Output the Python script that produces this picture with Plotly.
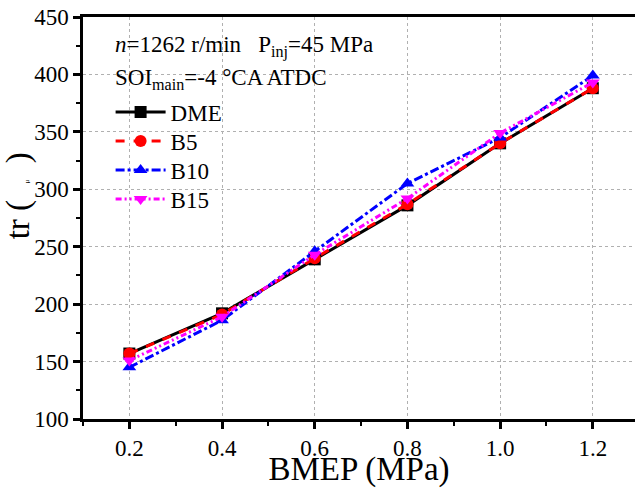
import plotly.graph_objects as go

bmep = [0.2, 0.4, 0.6, 0.8, 1.0, 1.2]
dme = [157, 192, 239, 286, 340, 388]
b5 = [157, 191, 240, 287, 340, 388]
b10 = [145, 186, 246, 305, 345, 399]
b15 = [151, 189, 243, 292, 349, 393]

series = [
    ("DME", dme, "black", "solid", "square"),
    ("B5", b5, "red", "dash", "circle"),
    ("B10", b10, "blue", "dashdot", "triangle-up"),
    ("B15", b15, "magenta", "6px,3px,2px,3px,2px,3px", "triangle-down"),
]

FONT = "Liberation Serif"
legend_names = ["legend", "legend2", "legend3", "legend4"]
legend_y = [0.7637, 0.6915, 0.6194, 0.5473]

fig = go.Figure()
for (name, ys, color, dash, sym), lg in zip(series, legend_names):
    fig.add_trace(go.Scatter(
        x=bmep, y=ys, name=name, mode="lines+markers",
        line=dict(color=color, width=3, dash=dash),
        marker=dict(symbol=sym, size=12, color=color),
        legend=lg,
    ))

legend_layout = {}
for lg, ly in zip(legend_names, legend_y):
    legend_layout[lg] = dict(
        x=0.05, y=ly, xanchor="left", yanchor="middle",
        font=dict(size=23, family=FONT, color="black"), bgcolor="rgba(0,0,0,0)",
        itemwidth=50, borderwidth=0,
    )

fig.update_layout(
    width=635, height=488,
    margin=dict(l=83, r=0, t=17, b=69),
    paper_bgcolor="white", plot_bgcolor="white",
    font=dict(family=FONT, color="black", size=23),
    showlegend=True,
    **legend_layout,
    xaxis=dict(
        range=[0.1, 1.291], tickmode="array", tickvals=[0.2, 0.4, 0.6, 0.8, 1.0, 1.2],
        ticktext=["0.2", "0.4", "0.6", "0.8", "1.0", "1.2"],
        showline=True, linecolor="black", linewidth=2.5, mirror=True,
        ticks="outside", ticklen=7, tickwidth=2.5, tickcolor="black",
        minor=dict(dtick=0.1, tick0=0.1, ticks="outside", ticklen=4, tickwidth=2, tickcolor="black", showgrid=False),
        showgrid=True, gridcolor="#b0b0b0", griddash="dot", gridwidth=1,
        zeroline=False, automargin=False,
        title=dict(text="BMEP (MPa)", font=dict(size=33, family=FONT, color="black"), standoff=7),
        tickfont=dict(size=23, family=FONT, color="black"),
    ),
    yaxis=dict(
        range=[100, 450], tickmode="linear", tick0=100, dtick=50,
        showline=True, linecolor="black", linewidth=2.5, mirror=False,
        ticks="outside", ticklen=7, tickwidth=2.5, tickcolor="black",
        minor=dict(dtick=25, tick0=100, ticks="outside", ticklen=4, tickwidth=2, tickcolor="black", showgrid=False),
        showgrid=True, gridcolor="#b0b0b0", griddash="dot", gridwidth=1,
        zeroline=False, automargin=False,
        tickfont=dict(size=23, family=FONT, color="black"),
    ),
    annotations=[
        dict(xref="paper", yref="paper", x=0.055, y=0.927, xanchor="left", yanchor="middle",
             text="<i>n</i>=1262 r/min   P<sub>inj</sub>=45 MPa", showarrow=False,
             font=dict(size=23, family=FONT, color="black")),
        dict(xref="paper", yref="paper", x=0.055, y=0.846, xanchor="left", yanchor="middle",
             text="SOI<sub>main</sub>=-4 °CA ATDC", showarrow=False,
             font=dict(size=23, family=FONT, color="black")),
        dict(xref="paper", yref="paper", x=-0.117, y=0.555, xanchor="center", yanchor="middle",
             textangle=-90,
             text="tr (&#8194;<span style='font-size:7px'>μ</span>&#8194;)", showarrow=False,
             font=dict(size=33, family=FONT, color="black")),
    ],
)

fig.write_html("out.html")
